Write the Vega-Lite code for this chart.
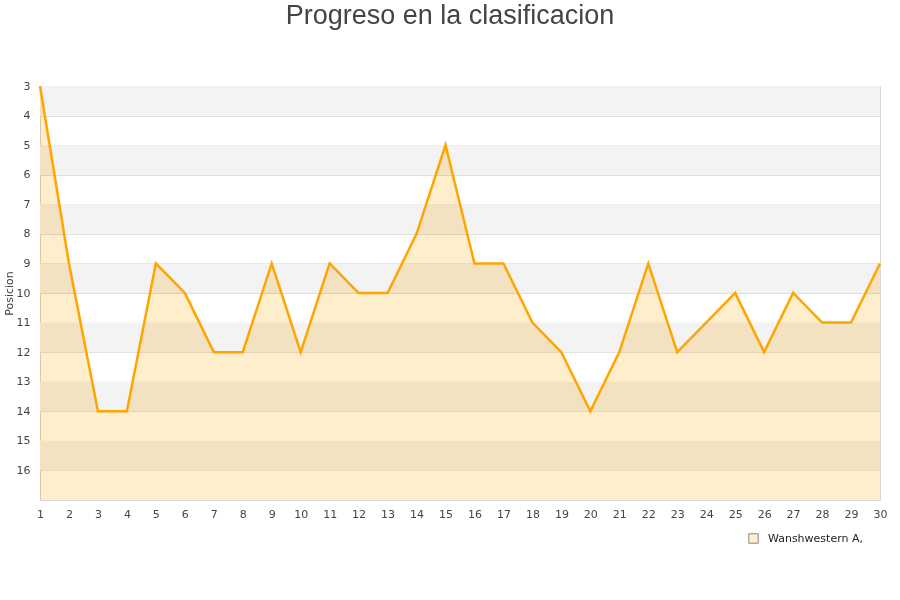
{
  "$schema": "https://vega.github.io/schema/vega-lite/v6.json",
  "width": 840,
  "height": 414,
  "autosize": {"type": "none"},
  "padding": {"left": 40, "top": 86, "right": 20, "bottom": 100},
  "background": "white",
  "title": {
    "text": "Progreso en la clasificacion",
    "font": "Liberation Sans",
    "fontSize": 27,
    "fontWeight": "normal",
    "color": "#444444",
    "anchor": "middle",
    "dx": -10,
    "offset": 50
  },
  "config": {
    "view": {"stroke": "#d8d8d8", "strokeWidth": 1},
    "axis": {
      "labelFont": "DejaVu Sans",
      "labelFontSize": 11,
      "labelColor": "#444444",
      "titleFont": "DejaVu Sans",
      "titleFontSize": 11,
      "titleFontWeight": "normal",
      "titleColor": "#444444",
      "ticks": false,
      "domain": false,
      "labelOverlap": false,
      "format": "d"
    },
    "axisX": {"grid": false, "labelFlush": false, "labelPadding": 8},
    "axisY": {"grid": true, "gridColor": "#dedede", "labelPadding": 10, "titlePadding": 2, "zindex": 1},
    "legend": {"labelFont": "DejaVu Sans", "labelFontSize": 11, "labelColor": "#222222"}
  },
  "datasets": {
    "bandas": [
      {"desde": 3, "hasta": 4},
      {"desde": 5, "hasta": 6},
      {"desde": 7, "hasta": 8},
      {"desde": 9, "hasta": 10},
      {"desde": 11, "hasta": 12},
      {"desde": 13, "hasta": 14},
      {"desde": 15, "hasta": 16}
    ],
    "progreso": [
      {"jornada": 1, "posicion": 3, "equipo": "Wanshwestern A,"},
      {"jornada": 2, "posicion": 9, "equipo": "Wanshwestern A,"},
      {"jornada": 3, "posicion": 14, "equipo": "Wanshwestern A,"},
      {"jornada": 4, "posicion": 14, "equipo": "Wanshwestern A,"},
      {"jornada": 5, "posicion": 9, "equipo": "Wanshwestern A,"},
      {"jornada": 6, "posicion": 10, "equipo": "Wanshwestern A,"},
      {"jornada": 7, "posicion": 12, "equipo": "Wanshwestern A,"},
      {"jornada": 8, "posicion": 12, "equipo": "Wanshwestern A,"},
      {"jornada": 9, "posicion": 9, "equipo": "Wanshwestern A,"},
      {"jornada": 10, "posicion": 12, "equipo": "Wanshwestern A,"},
      {"jornada": 11, "posicion": 9, "equipo": "Wanshwestern A,"},
      {"jornada": 12, "posicion": 10, "equipo": "Wanshwestern A,"},
      {"jornada": 13, "posicion": 10, "equipo": "Wanshwestern A,"},
      {"jornada": 14, "posicion": 8, "equipo": "Wanshwestern A,"},
      {"jornada": 15, "posicion": 5, "equipo": "Wanshwestern A,"},
      {"jornada": 16, "posicion": 9, "equipo": "Wanshwestern A,"},
      {"jornada": 17, "posicion": 9, "equipo": "Wanshwestern A,"},
      {"jornada": 18, "posicion": 11, "equipo": "Wanshwestern A,"},
      {"jornada": 19, "posicion": 12, "equipo": "Wanshwestern A,"},
      {"jornada": 20, "posicion": 14, "equipo": "Wanshwestern A,"},
      {"jornada": 21, "posicion": 12, "equipo": "Wanshwestern A,"},
      {"jornada": 22, "posicion": 9, "equipo": "Wanshwestern A,"},
      {"jornada": 23, "posicion": 12, "equipo": "Wanshwestern A,"},
      {"jornada": 24, "posicion": 11, "equipo": "Wanshwestern A,"},
      {"jornada": 25, "posicion": 10, "equipo": "Wanshwestern A,"},
      {"jornada": 26, "posicion": 12, "equipo": "Wanshwestern A,"},
      {"jornada": 27, "posicion": 10, "equipo": "Wanshwestern A,"},
      {"jornada": 28, "posicion": 11, "equipo": "Wanshwestern A,"},
      {"jornada": 29, "posicion": 11, "equipo": "Wanshwestern A,"},
      {"jornada": 30, "posicion": 9, "equipo": "Wanshwestern A,"}
    ]
  },
  "layer": [
    {
      "data": {"name": "bandas"},
      "mark": {"type": "rect", "color": "#f3f3f3"},
      "encoding": {
        "y": {
          "field": "desde",
          "type": "quantitative",
          "title": "Posicion",
          "scale": {"domain": [3, 17], "reverse": true, "nice": false, "zero": false},
          "axis": {"values": [3, 4, 5, 6, 7, 8, 9, 10, 11, 12, 13, 14, 15, 16], "tickCount": 40, "format": "d"}
        },
        "y2": {"field": "hasta"}
      }
    },
    {
      "data": {"name": "progreso"},
      "mark": {"type": "area", "blend": "multiply"},
      "encoding": {
        "x": {
          "field": "jornada",
          "type": "quantitative",
          "title": null,
          "scale": {"domain": [1, 30], "nice": false, "zero": false},
          "axis": {"values": [1, 2, 3, 4, 5, 6, 7, 8, 9, 10, 11, 12, 13, 14, 15, 16, 17, 18, 19, 20, 21, 22, 23, 24, 25, 26, 27, 28, 29, 30], "tickCount": 60, "format": "d"}
        },
        "y": {"field": "posicion", "type": "quantitative", "title": "Posicion"},
        "y2": {"datum": 17},
        "fill": {
          "field": "equipo",
          "type": "nominal",
          "scale": {"range": ["#FFEECC"]},
          "legend": {
            "title": null,
            "orient": "none",
            "legendX": 708,
            "legendY": 447,
            "symbolType": "square",
            "symbolSize": 90,
            "symbolStrokeColor": "#888888",
            "symbolStrokeWidth": 1,
            "symbolOpacity": 1,
            "labelOffset": 9
          }
        }
      }
    },
    {
      "data": {"name": "progreso"},
      "mark": {"type": "line", "color": "#FFA500", "strokeWidth": 2.5},
      "encoding": {
        "x": {"field": "jornada", "type": "quantitative", "title": null},
        "y": {"field": "posicion", "type": "quantitative", "title": "Posicion"}
      }
    }
  ]
}
